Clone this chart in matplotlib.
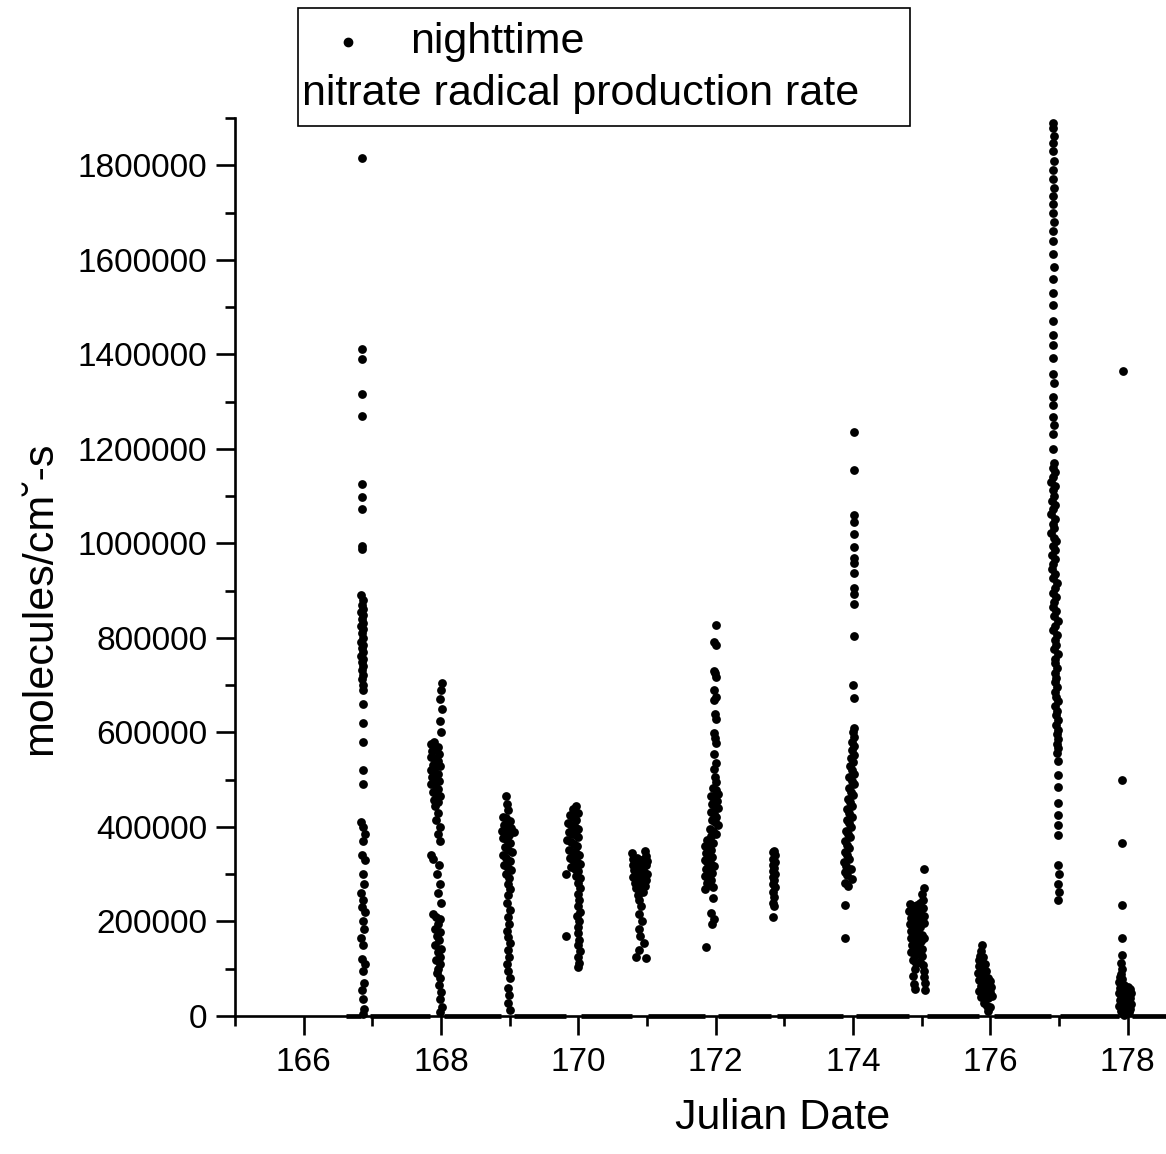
import numpy as np
import matplotlib.pyplot as plt
from matplotlib.lines import Line2D
from matplotlib.patches import Rectangle
from matplotlib.ticker import MultipleLocator, FuncFormatter

plt.rcParams['font.family'] = ['Liberation Sans', 'DejaVu Sans']

# nighttime NO3 production rate, (julian date, rate in 1000 molecules/cm3-s)
night_167 = [
    (166.85, 1815), (166.85, 1412), (166.85, 1390), (166.85, 1315), (166.85, 1270),
    (166.85, 1125), (166.85, 1098), (166.85, 1072), (166.85, 995), (166.85, 988),
    (166.84, 890), (166.86, 880), (166.85, 870), (166.87, 862), (166.84, 855), (166.86, 848),
    (166.85, 840), (166.87, 832), (166.84, 825), (166.86, 818), (166.85, 810), (166.87, 800),
    (166.84, 792), (166.86, 785), (166.85, 778), (166.87, 770), (166.84, 762), (166.86, 755),
    (166.85, 748), (166.87, 740), (166.85, 732), (166.86, 722), (166.85, 712), (166.86, 700),
    (166.86, 690), (166.87, 660), (166.86, 620), (166.87, 580), (166.86, 520), (166.87, 490),
    (166.84, 410), (166.87, 400), (166.90, 385), (166.86, 370), (166.85, 340), (166.89, 330),
    (166.86, 300), (166.88, 280), (166.84, 260), (166.87, 245), (166.85, 230), (166.90, 220),
    (166.86, 200), (166.88, 185), (166.84, 165), (166.87, 150), (166.85, 120), (166.89, 110),
    (166.86, 95), (166.88, 70), (166.85, 55), (166.87, 35), (166.88, 15), (166.86, 5),
]
night_168 = [
    (168.01, 705), (168.00, 690), (167.99, 670), (168.01, 650), (167.98, 625), (168.00, 600),
    (167.85, 575), (167.90, 580), (167.95, 570), (167.87, 560), (167.92, 565), (167.97, 555),
    (167.85, 548), (167.90, 545), (167.95, 540), (167.88, 532), (167.93, 535), (167.98, 528),
    (167.85, 520), (167.90, 518), (167.95, 512), (167.87, 505), (167.92, 500), (167.97, 498),
    (167.86, 490), (167.91, 488), (167.96, 480), (167.88, 475), (167.93, 470), (167.98, 465),
    (167.90, 458), (167.95, 452), (167.92, 445),
    (167.96, 430), (167.93, 415), (167.98, 400), (167.95, 385), (167.99, 370), (167.86, 340),
    (167.88, 332), (167.97, 320), (167.94, 300), (167.99, 280), (167.96, 260), (168.00, 240),
    (167.88, 215), (167.93, 210), (167.98, 205), (167.96, 195), (167.91, 185), (167.99, 178),
    (167.94, 170), (167.97, 160), (167.92, 150), (168.00, 142), (167.95, 135), (167.98, 125),
    (167.93, 118), (167.99, 110), (167.96, 100), (167.94, 90), (167.99, 80), (167.97, 65),
    (168.00, 50), (167.98, 35), (168.01, 20), (167.99, 8),
]
night_169 = [
    (168.94, 465), (168.96, 448), (168.98, 435),
    (168.90, 420), (168.95, 418), (169.00, 412), (168.92, 405), (168.97, 402), (169.02, 398),
    (168.89, 392), (169.06, 390), (168.94, 388), (168.99, 384), (168.91, 376), (168.96, 372),
    (169.01, 366), (168.93, 358), (168.98, 352), (169.03, 346), (168.90, 340), (168.95, 335),
    (169.00, 328), (168.92, 320), (168.97, 314), (169.02, 308), (168.94, 300), (168.99, 292),
    (168.97, 280), (169.00, 268), (168.98, 255), (168.96, 240), (169.00, 225), (168.97, 210),
    (168.99, 195), (168.96, 180), (168.98, 168), (169.00, 155), (168.97, 140), (168.99, 125),
    (168.96, 110), (168.98, 95), (169.00, 80), (168.97, 60), (168.99, 45), (168.98, 28),
    (169.00, 12),
]
night_170 = [
    (169.97, 445), (169.93, 438), (169.99, 430),
    (169.88, 425), (169.93, 420), (169.97, 415), (169.85, 408), (169.90, 405), (169.95, 400),
    (169.99, 396), (169.86, 390), (169.91, 386), (169.96, 382), (170.00, 378), (169.84, 372),
    (169.89, 368), (169.94, 364), (169.98, 360), (169.87, 352), (169.92, 348), (169.97, 344),
    (170.01, 340), (169.88, 334), (169.93, 330), (169.98, 326), (170.02, 322), (169.90, 316),
    (169.95, 312), (170.00, 306), (169.82, 300), (169.97, 296), (170.02, 292),
    (170.00, 282), (170.02, 270), (169.99, 258), (170.01, 245), (170.00, 232), (170.02, 220),
    (169.98, 212), (170.01, 200), (170.00, 188), (169.99, 175), (169.82, 170), (170.01, 160),
    (170.00, 150), (170.02, 138), (170.00, 125), (170.01, 112), (170.00, 104),
]
night_171 = [
    (170.78, 345), (170.97, 350), (170.99, 338),
    (170.80, 332), (170.85, 335), (170.90, 330), (170.95, 332), (171.00, 328), (170.79, 320),
    (170.84, 318), (170.89, 322), (170.94, 316), (170.99, 320), (170.81, 308), (170.86, 305),
    (170.91, 310), (170.96, 304), (171.00, 300), (170.80, 295), (170.85, 292), (170.90, 296),
    (170.95, 290), (170.99, 288), (170.82, 282), (170.87, 280), (170.92, 278), (170.97, 276),
    (170.84, 270), (170.89, 266), (170.94, 262), (170.87, 255),
    (170.88, 245), (170.91, 232), (170.89, 215), (170.93, 200), (170.88, 185), (170.90, 170),
    (170.95, 155), (170.89, 140), (170.84, 125), (170.98, 123),
]
night_172 = [
    (172.00, 827), (171.98, 792), (172.00, 785), (171.97, 730), (171.99, 725), (172.01, 718),
    (171.98, 690), (172.00, 675), (171.97, 668), (171.99, 640), (172.00, 628), (171.97, 598),
    (171.99, 588), (172.01, 578), (171.98, 555), (172.00, 535), (171.97, 522), (171.99, 505),
    (172.01, 495),
    (171.96, 482), (172.00, 478), (172.03, 470), (171.94, 465), (171.98, 460), (172.02, 455),
    (171.95, 448), (171.99, 444), (172.03, 440), (171.93, 432), (171.97, 428), (172.01, 422),
    (171.95, 415), (171.99, 410), (172.03, 404), (171.92, 396), (171.96, 392), (172.00, 386),
    (171.94, 380),
    (171.87, 372), (171.92, 370), (171.96, 366), (171.85, 360), (171.89, 356), (171.94, 352),
    (171.86, 345), (171.91, 340), (171.95, 336), (171.84, 330), (171.88, 326), (171.93, 322),
    (171.97, 318), (171.86, 312), (171.90, 308), (171.95, 302), (171.85, 296), (171.89, 292),
    (171.94, 288), (171.87, 282), (171.92, 278), (171.96, 272), (171.85, 268),
    (171.96, 250), (171.94, 218), (171.97, 205), (171.95, 195), (171.86, 145),
]
night_173 = [
    (172.85, 350), (172.83, 346), (172.86, 340), (172.84, 333), (172.86, 326), (172.83, 320),
    (172.85, 314), (172.84, 306), (172.86, 300), (172.83, 294), (172.85, 288), (172.84, 280),
    (172.86, 272), (172.84, 262), (172.85, 252), (172.84, 240), (172.85, 232), (172.84, 210),
]
night_174 = [
    (174.02, 1235), (174.01, 1155), (174.02, 1060), (174.01, 1045), (174.02, 1020),
    (174.02, 992), (174.01, 968), (174.02, 958), (174.01, 938), (174.02, 905), (174.02, 892),
    (174.01, 872), (174.01, 805), (174.00, 700), (174.01, 672),
    (174.01, 610), (174.00, 600), (174.02, 590), (173.98, 580), (174.01, 572), (173.99, 562),
    (174.02, 552), (173.97, 545), (174.00, 538), (173.96, 528), (173.99, 520), (174.02, 512),
    (173.95, 505), (173.98, 498), (174.01, 490), (173.94, 482), (173.97, 475), (174.00, 468),
    (173.93, 460), (173.96, 452), (173.99, 445), (173.92, 438), (173.95, 430), (173.98, 422),
    (173.91, 415), (173.94, 408), (173.97, 400), (173.90, 392), (173.93, 385), (173.96, 378),
    (173.89, 370), (173.92, 362), (173.95, 355), (173.88, 348), (173.91, 340), (173.94, 332),
    (173.87, 325), (173.90, 318), (173.97, 310), (173.88, 305), (173.92, 298), (173.98, 290),
    (173.89, 282), (173.93, 275), (173.89, 235), (173.88, 165),
]
night_175 = [
    (175.04, 310), (175.03, 270), (175.00, 258),
    (174.83, 238), (174.88, 232), (174.93, 235), (174.98, 240), (175.02, 245), (174.82, 222),
    (174.87, 218), (174.92, 225), (174.97, 220), (175.02, 228), (174.84, 208), (174.89, 205),
    (174.94, 210), (174.99, 202), (175.03, 212), (174.83, 195), (174.88, 190), (174.93, 192),
    (174.98, 188), (175.03, 196), (174.85, 180), (174.90, 176), (174.95, 178), (175.00, 172),
    (174.84, 165), (174.89, 160), (174.94, 162), (174.99, 158), (175.03, 165), (174.86, 150),
    (174.91, 145), (174.96, 148), (175.01, 142), (174.85, 135), (174.90, 130), (174.95, 132),
    (175.00, 126), (174.87, 118), (174.92, 112), (174.97, 115), (175.02, 108), (174.90, 100),
    (175.03, 95),
    (174.88, 85), (175.03, 82), (174.89, 68), (175.05, 70), (174.90, 58), (175.05, 55),
]
night_176 = [
    (175.88, 150), (175.87, 138), (175.85, 128), (175.90, 125), (175.83, 118), (175.88, 115),
    (175.93, 110), (175.84, 105), (175.89, 100), (175.94, 96), (175.82, 92), (175.87, 88),
    (175.92, 85), (175.97, 80), (175.84, 76), (175.89, 72), (175.94, 70), (175.99, 74),
    (175.86, 64), (175.91, 60), (175.96, 58), (176.01, 62), (175.84, 52), (175.89, 48),
    (175.94, 45), (175.99, 50), (175.87, 40), (175.92, 36), (175.97, 38), (176.02, 42),
    (175.91, 28), (175.95, 22), (175.99, 18), (175.97, 10),
]
night_177 = [
    (176.92, 1890), (176.92, 1878), (176.93, 1862), (176.92, 1848), (176.92, 1830),
    (176.93, 1808), (176.92, 1790), (176.92, 1770), (176.93, 1752), (176.91, 1735),
    (176.92, 1718), (176.92, 1700), (176.93, 1680), (176.91, 1660), (176.92, 1640),
    (176.92, 1612), (176.93, 1585), (176.91, 1560), (176.92, 1530), (176.92, 1505),
    (176.92, 1470), (176.91, 1440), (176.92, 1420), (176.92, 1392), (176.91, 1358),
    (176.93, 1340), (176.92, 1310), (176.91, 1292), (176.92, 1268), (176.93, 1250),
    (176.91, 1232), (176.92, 1200),
    (176.93, 1170), (176.91, 1160), (176.95, 1152), (176.92, 1140), (176.89, 1130),
    (176.94, 1122), (176.91, 1112), (176.93, 1100), (176.90, 1090), (176.95, 1082),
    (176.92, 1072), (176.89, 1062), (176.94, 1052), (176.91, 1042), (176.93, 1032),
    (176.89, 1022), (176.93, 1012), (176.96, 1004), (176.91, 995), (176.94, 985),
    (176.90, 975), (176.95, 966), (176.92, 956), (176.90, 946), (176.95, 936), (176.92, 926),
    (176.97, 916), (176.94, 906), (176.91, 896), (176.96, 886), (176.93, 876), (176.91, 866),
    (176.96, 856), (176.93, 846), (176.98, 836), (176.95, 826), (176.92, 816), (176.97, 806),
    (176.94, 796), (176.96, 786), (176.93, 776), (176.98, 766), (176.95, 756), (176.94, 746),
    (176.97, 736), (176.95, 726), (176.96, 716), (176.94, 706), (176.97, 696), (176.95, 686),
    (176.96, 676), (176.98, 666), (176.95, 656), (176.97, 646), (176.96, 636), (176.98, 626),
    (176.96, 616), (176.98, 606), (176.97, 596), (176.99, 586), (176.97, 576), (176.98, 566),
    (176.97, 556),
    (176.98, 540), (176.99, 510), (176.98, 485), (176.99, 450), (176.98, 425), (176.99, 405),
    (176.98, 382), (176.99, 320), (177.00, 300), (176.99, 280), (177.00, 262), (176.99, 245),
]
night_178 = [
    (177.93, 1365), (177.92, 500), (177.92, 365), (177.92, 235), (177.92, 165),
    (177.92, 130), (177.91, 112), (177.92, 100), (177.90, 88),
    (177.89, 82), (177.92, 78), (177.88, 72), (177.91, 70), (177.95, 66), (178.00, 62),
    (178.04, 58), (177.89, 60), (177.93, 56), (177.97, 54), (178.02, 52), (178.05, 48),
    (177.88, 48), (177.91, 44), (177.95, 42), (177.99, 40), (178.03, 38), (177.89, 34),
    (177.93, 30), (177.97, 28), (178.01, 30), (178.05, 26), (177.88, 22), (177.92, 18),
    (177.96, 16), (178.00, 18), (178.04, 14), (177.90, 10), (177.94, 8), (177.98, 6),
    (178.02, 8), (177.95, 2),
]

# daytime stretches where the rate is zero
zero_start = [166.62, 166.97, 168.05, 169.06, 170.04, 171.02, 172.04, 172.90, 174.04, 175.08, 176.05, 177.02, 178.07]
zero_end = [166.83, 167.84, 168.88, 169.82, 170.78, 171.84, 172.81, 173.86, 174.82, 175.83, 176.89, 177.87, 178.60]

nights = [night_167, night_168, night_169, night_170, night_171, night_172,
          night_173, night_174, night_175, night_176, night_177, night_178]
pts = np.array([p for n in nights for p in n], dtype=float)
jd = pts[:, 0]
rate = pts[:, 1] * 1000.0

fig = plt.figure(figsize=(11.66, 11.54), dpi=100)
ax = fig.add_axes([235 / 1166, 1 - 1016 / 1154, 1 - 235 / 1166, (1016 - 118) / 1154])

ax.scatter(jd, rate, s=40, c='black', linewidths=0, zorder=3, clip_on=False)
ax.hlines(np.zeros(len(zero_start)), zero_start, zero_end, colors='black',
          linewidth=3.4, zorder=3, clip_on=False)

ax.set_xlim(165, 178.56)
ax.set_ylim(0, 1.9e6)

for s in ['top', 'right']:
    ax.spines[s].set_visible(False)
for s in ['left', 'bottom']:
    ax.spines[s].set_linewidth(1.9)

ax.xaxis.set_major_locator(MultipleLocator(2))
ax.xaxis.set_minor_locator(MultipleLocator(1))
ax.yaxis.set_major_locator(MultipleLocator(200000))
ax.yaxis.set_minor_locator(MultipleLocator(100000))
ax.yaxis.set_major_formatter(FuncFormatter(lambda v, p: f"{int(round(v))}"))
ax.tick_params(which='major', length=14, width=1.9, direction='out', labelsize=24)
ax.tick_params(which='minor', length=7, width=1.9, direction='out')
ax.tick_params(axis='x', which='major', pad=8)
ax.tick_params(axis='y', which='major', pad=6)

ax.set_xlabel("Julian Date", fontsize=31)
ax.xaxis.set_label_coords((783 - 235) / 931, -(1118 - 1016) / 898)
ax.xaxis.label.set_va('center')
ax.set_ylabel("molecules/cm\u02d8-s", fontsize=31)
ax.yaxis.set_label_coords((40 - 235) / 931, (1016 - 598) / 898)
ax.yaxis.label.set_va('center')

# legend box
fig.add_artist(Rectangle((298 / 1166, 1 - 126 / 1154), (910 - 298) / 1166, (126 - 8) / 1154,
                         transform=fig.transFigure, fill=False, edgecolor='black', linewidth=1.2))
fig.add_artist(Line2D([348 / 1166], [1 - 42 / 1154], marker='o', markersize=6,
                      color='black', linestyle='none', transform=fig.transFigure))
fig.text(497 / 1166, 1 - 42 / 1154, "nighttime", fontsize=31, ha='center', va='center')
fig.text(581 / 1166, 1 - 94 / 1154, "nitrate radical production rate", fontsize=31,
         ha='center', va='center')

fig.savefig("out.png", dpi=100)
